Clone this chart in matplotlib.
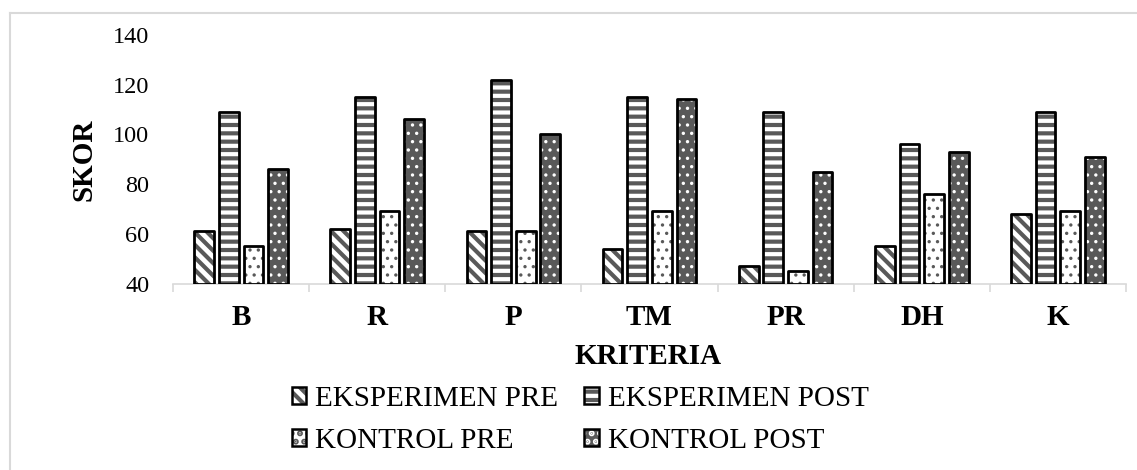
import matplotlib
matplotlib.use("Agg")
import matplotlib.pyplot as plt
import matplotlib.hatch as mhatch
import matplotlib.patches as mpatches
from matplotlib.lines import Line2D
from matplotlib.legend_handler import HandlerTuple
import numpy as np

# ---- data ----
categories = ["B", "R", "P", "TM", "PR", "DH", "K"]
series_names = ["EKSPERIMEN PRE", "EKSPERIMEN POST", "KONTROL PRE", "KONTROL POST"]
eksperimen_pre = [61, 62, 61, 54, 47, 55, 68]
eksperimen_post = [109, 115, 122, 115, 109, 96, 109]
kontrol_pre = [55, 69, 61, 69, 45, 76, 69]
kontrol_post = [86, 106, 100, 114, 85, 93, 91]
y_ticks = [40, 60, 80, 100, 120, 140]

# denser diagonal hatch (closer to the reference stripes)
_SE = getattr(mhatch, "SouthEastHatch", None)
if _SE is not None:
    def _se_init(self, hatch, density):
        self.num_lines = int((hatch.count('\\') + hatch.count('x') + hatch.count('X')) * 16)
        self.num_vertices = (self.num_lines + 1) * 2 if self.num_lines else 0
    _SE.__init__ = _se_init

plt.rcParams['font.family'] = ['Liberation Serif', 'DejaVu Serif']
plt.rcParams['hatch.linewidth'] = 3.0

DARK = "#595959"
GRID = "#d9d9d9"
FS_TICK = 17.5
FS_BIG = 21

fig = plt.figure(figsize=(11.37, 4.70), dpi=100)
W, H = 1137, 470
ax = fig.add_axes([173 / W, 1 - 283.5 / H, (1126 - 173) / W, (283.5 - 34.8) / H])

x = np.arange(len(categories))
pitch = 0.181
width = 0.145
series = [eksperimen_pre, eksperimen_post, kontrol_pre, kontrol_post]
styles = [
    dict(face="white", hatch_col=DARK, hatch="\\"),
    dict(face=DARK, hatch_col="white", hatch="--"),
    dict(face="white", hatch_col=DARK, hatch=".."),
    dict(face=DARK, hatch_col="white", hatch=".."),
]

handles = []
for i, (vals, st) in enumerate(zip(series, styles)):
    pos = x + (i - 1.5) * pitch
    bottoms = 40
    heights = [v - 40 for v in vals]
    hb = ax.bar(pos, heights, width, bottom=bottoms, color=st["face"],
                edgecolor=st["hatch_col"], linewidth=0, hatch=st["hatch"], zorder=2)
    if st["hatch"] == "..":
        for p in hb:
            if hasattr(p, "set_hatch_linewidth"):
                p.set_hatch_linewidth(1.2)
    ob = ax.bar(pos, heights, width, bottom=bottoms, fill=False,
                edgecolor="black", linewidth=2.0, zorder=3)
    for p in ob:
        p.set_joinstyle("round")
    h1 = mpatches.Patch(facecolor=st["face"], edgecolor=st["hatch_col"], linewidth=0,
                        hatch=st["hatch"])
    if st["hatch"] == ".." and hasattr(h1, "set_hatch_linewidth"):
        h1.set_hatch_linewidth(1.2)
    h2 = mpatches.Patch(fill=False, edgecolor="black", linewidth=1.8)
    handles.append((h1, h2))

ax.set_xlim(-0.5, len(categories) - 0.5)
ax.set_ylim(40, 140)
ax.set_yticks(y_ticks)
ax.set_yticklabels([str(t) for t in y_ticks], fontsize=FS_TICK)
ax.tick_params(axis='y', length=0, pad=17)

ax.set_xticks(x)
ax.set_xticklabels(categories, fontsize=FS_BIG, fontweight='bold')
ax.tick_params(axis='x', which='major', length=0, pad=15)
ax.set_xticks(np.arange(-0.5, len(categories)), minor=True)
ax.tick_params(axis='x', which='minor', length=6, color=GRID, width=1.2)

for s in ["top", "right", "left"]:
    ax.spines[s].set_visible(False)
ax.spines["bottom"].set_color(GRID)
ax.spines["bottom"].set_linewidth(1.2)
ax.spines["bottom"].set_zorder(1)

fig.text(84 / W, 1 - 160 / H, "SKOR", rotation=90, ha='center', va='center',
         fontsize=FS_BIG, fontweight='bold')
fig.text(648 / W, 1 - 357 / H, "KRITERIA", ha='center', va='center',
         fontsize=FS_BIG, fontweight='bold')

# legend filled row-wise (matplotlib fills columns first, so reorder)
order = [0, 2, 1, 3]
leg = fig.legend([handles[k] for k in order], [series_names[k] for k in order],
                 ncol=2, loc='center',
                 bbox_to_anchor=(580 / W, 1 - 420 / H),
                 handler_map={tuple: HandlerTuple(ndivide=1, pad=0)},
                 frameon=False, fontsize=FS_BIG, handlelength=0.5, handleheight=0.5,
                 handletextpad=0.3, columnspacing=0.9, labelspacing=0.55,
                 borderpad=0)

# chart area border (top and left visible)
fig.add_artist(Line2D([9.5 / W, 9.5 / W], [0, 1 - 12.5 / H], color=GRID, linewidth=1.5,
                      transform=fig.transFigure))
fig.add_artist(Line2D([9.5 / W, 1], [1 - 12.5 / H, 1 - 12.5 / H], color=GRID, linewidth=1.5,
                      transform=fig.transFigure))

fig.savefig("out.png", dpi=100)
